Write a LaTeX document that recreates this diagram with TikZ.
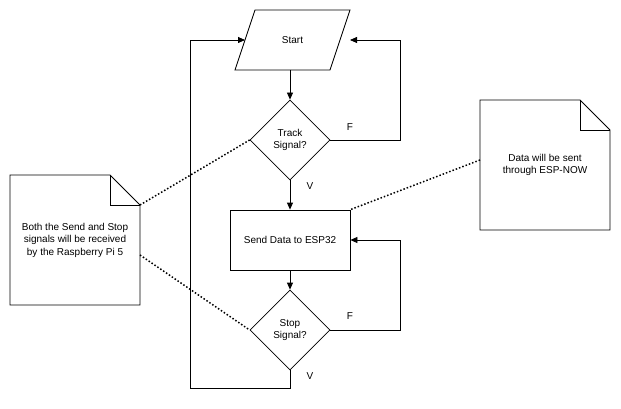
\documentclass[tikz,border=0pt]{standalone}
\usepackage{fontspec}
\setmainfont{Liberation Sans}
\usetikzlibrary{shapes.geometric,arrows.meta}
\begin{document}
\begin{tikzpicture}[x=1pt,y=-1pt,font=\fontsize{10}{12.5}\selectfont,
  line/.style={draw=black,line width=0.8pt},
  arr/.style={line,-{Triangle[length=7pt,width=6pt]}},
  dia/.style={diamond,draw,line width=0.8pt,minimum width=80pt,minimum height=80pt,inner sep=0pt,align=center},
  dots/.style={line width=1.5pt,dotted},
  lbl/.style={font=\fontsize{10}{12}\selectfont}]
\useasboundingbox (0,0) rectangle (621,409);
% start parallelogram
\draw[line] (255,10) -- (350,10) -- (330,70) -- (235,70) -- cycle;
\node (start) at (292.5,40) {Start};
\coordinate (stb) at (290,70);
\coordinate (str) at (350,40);
\coordinate (stl) at (245,40);
\node[dia] (track) at (290,140) {Track\\Signal?};
\node[draw,line width=0.8pt,minimum width=120pt,minimum height=60pt] (send) at (290,240) {Send Data to ESP32};
\node[dia] (stop) at (290,330) {Stop\\Signal?};
\draw[arr] (stb) -- (track.north);
\draw[arr] (track.south) -- (send.north);
\draw[arr] (send.south) -- (stop.north);
\draw[arr] (track.east) -- (400,140) -- (400,40) -- (str);
\draw[arr] (stop.east) -- (400,330) -- (400,240) -- (send.east);
\draw[arr] (stop.south) -- (290,388) -- (190,388) -- (190,40) -- (stl);
\node[lbl] at (350,127) {F};
\node[lbl] at (310,186) {V};
\node[lbl] at (350,316) {F};
\node[lbl] at (310,376) {V};
% notes
\draw[line,fill=white] (10,175) -- (110,175) -- (140,205) -- (140,305) -- (10,305) -- cycle;
\draw[line] (110,175) -- (110,205) -- (140,205);
\node[align=center] (n1) at (75,240) {Both the Send and Stop\\signals will be received\\by the Raspberry Pi 5};
\draw[line,fill=white] (480,100) -- (580,100) -- (610,130) -- (610,230) -- (480,230) -- cycle;
\draw[line] (580,100) -- (580,130) -- (610,130);
\node[align=center] (n2) at (545,165) {Data will be sent\\through ESP-NOW};
\coordinate (n1a) at (140,205);
\coordinate (n1b) at (140,255);
\coordinate (n2a) at (480,160);
\draw[dots] (n1a) -- (track.west);
\draw[dots] (n1b) -- (stop.west);
\draw[dots] (n2a) -- (send.north east);
\end{tikzpicture}
\end{document}
